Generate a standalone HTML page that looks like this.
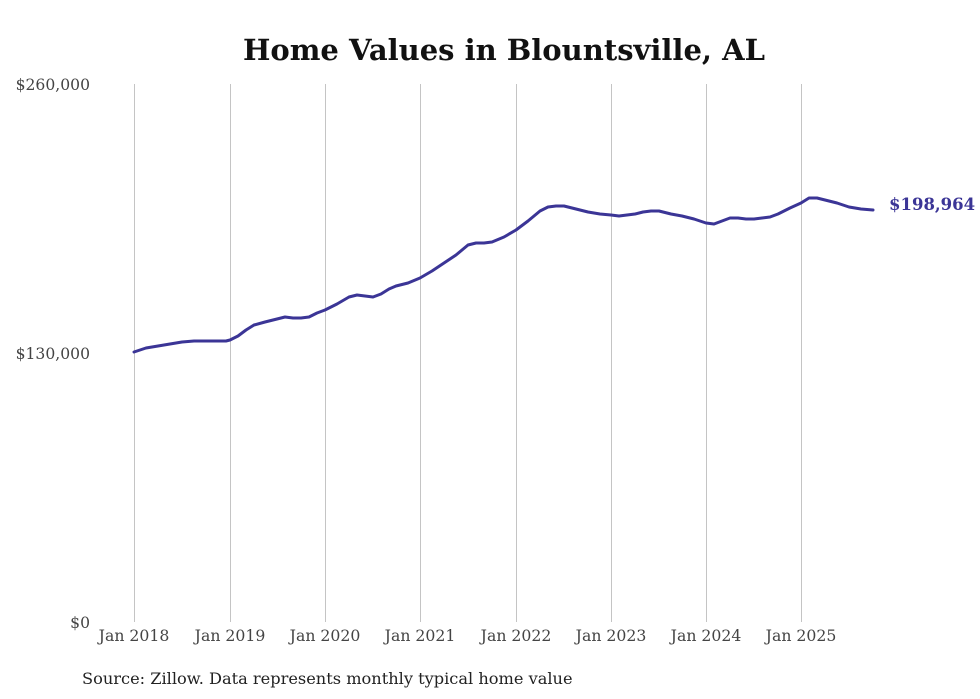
<!DOCTYPE html>
<html><head><style>body{margin:0;background:#fff}svg{display:block}</style></head><body>
<svg width="980" height="699" xmlns="http://www.w3.org/2000/svg" font-family="'DejaVu Serif','Liberation Serif',serif">
<rect width="980" height="699" fill="#fff"/>
<text x="504" y="60" text-anchor="middle" font-size="29" font-weight="bold" fill="#111">Home Values in Blountsville, AL</text>
<g stroke="#c4c4c4" stroke-width="1">
<line x1="134.5" y1="84" x2="134.5" y2="622"/><line x1="230.5" y1="84" x2="230.5" y2="622"/>
<line x1="325.5" y1="84" x2="325.5" y2="622"/><line x1="420.5" y1="84" x2="420.5" y2="622"/>
<line x1="516.5" y1="84" x2="516.5" y2="622"/><line x1="611.5" y1="84" x2="611.5" y2="622"/>
<line x1="706.5" y1="84" x2="706.5" y2="622"/><line x1="801.5" y1="84" x2="801.5" y2="622"/>
</g>
<g font-size="15.6" fill="#444" text-anchor="end">
<text x="90" y="90">$260,000</text><text x="90" y="359">$130,000</text><text x="90" y="628">$0</text>
</g>
<g font-size="15.7" fill="#444" text-anchor="middle">
<text x="134" y="641">Jan 2018</text><text x="230" y="641">Jan 2019</text><text x="325" y="641">Jan 2020</text>
<text x="420" y="641">Jan 2021</text><text x="516" y="641">Jan 2022</text><text x="611" y="641">Jan 2023</text>
<text x="706" y="641">Jan 2024</text><text x="801" y="641">Jan 2025</text>
</g>
<polyline fill="none" stroke="#3b3596" stroke-width="3" stroke-linejoin="round" stroke-linecap="round"
points="134,352 146,348 158,346 170,344 182,342 194,341 206,341 218,341 226,341 230,340 238,336 246,330 254,325 265,322 277,319 285,317 293,318 301,318 309,317 317,313 325,310 337,304 349,297 357,295 365,296 373,297 381,294 389,289 396,286 408,283 420,278 432,271 444,263 456,255 468,245 476,243 484,243 492,242 504,237 516,230 528,221 540,211 548,207 556,206 564,206 576,209 588,212 600,214 611,215 619,216 627,215 635,214 643,212 651,211 659,211 671,214 682,216 694,219 706,223 714,224 722,221 730,218 738,218 746,219 754,219 762,218 770,217 778,214 790,208 801,203 809,198 817,198 825,200 837,203 849,207 861,209 873,210"/>
<text x="889" y="210" font-size="16.5" font-weight="bold" fill="#3b3596">$198,964</text>
<text x="82" y="684" font-size="16.2" fill="#222">Source: Zillow. Data represents monthly typical home value</text>
</svg>
</body></html>
